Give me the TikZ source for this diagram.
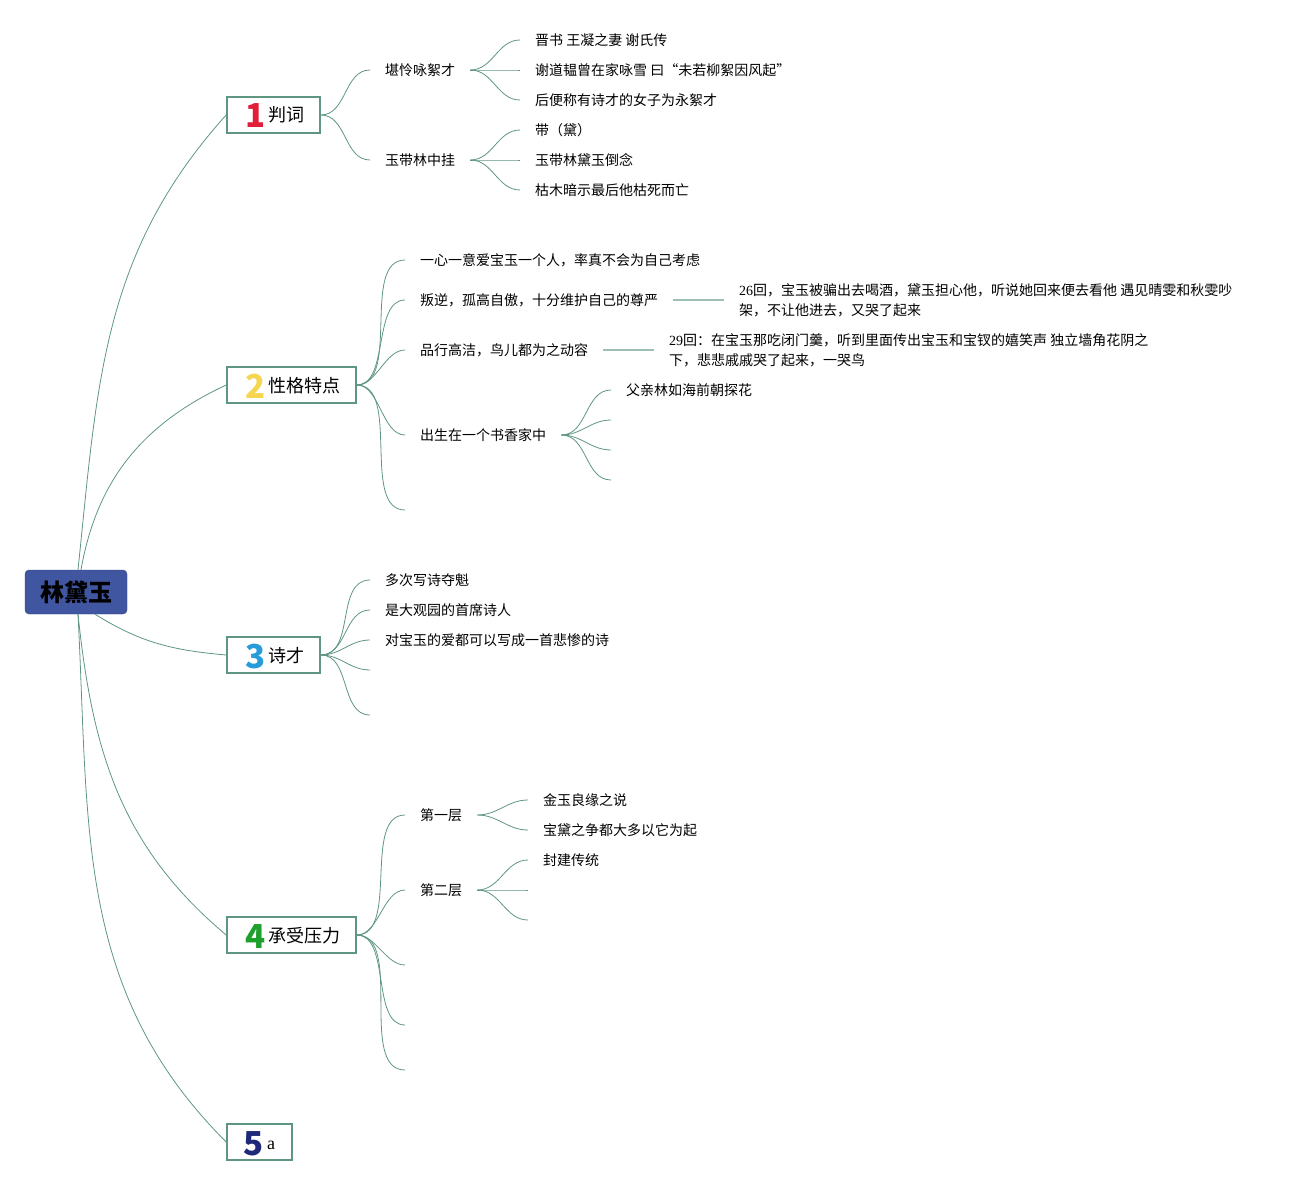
\documentclass[tikz,border=0pt]{standalone}
\usepackage{fontspec}
\setmainfont{Noto Sans CJK SC}
\newfontfamily\latin{Liberation Serif}
\definecolor{lineg}{RGB}{94,150,130}
\definecolor{rootb}{RGB}{64,86,161}
\definecolor{dgred}{RGB}{224,32,58}
\definecolor{dgyel}{RGB}{246,214,80}
\definecolor{dgblu}{RGB}{40,156,216}
\definecolor{dggrn}{RGB}{30,160,45}
\definecolor{dgnav}{RGB}{30,42,120}
\newcommand\dg[2]{\raisebox{-6pt}{\color{#1}\fontsize{33}{33}\selectfont\bfseries #2}}

\begin{document}
\begin{tikzpicture}[x=1pt,y=-1pt,
  link/.style={draw=lineg,line width=0.8pt},
  flat/.style={draw=lineg!60,line width=1.8pt},
  leaf/.style={anchor=west,inner xsep=15pt,inner ysep=1pt,align=left,
    font=\fontsize{14}{20}\selectfont},
  topic/.style={draw=lineg,line width=1.6pt,fill=white,minimum height=36pt,
    text height=17pt,text depth=3pt,inner sep=0pt,font=\fontsize{18}{20}\selectfont}]
\useasboundingbox (0,0) rectangle (1299,1185);
% root and main topics
\node[fill=rootb,draw=rootb!80!black,rounded corners=4pt,minimum width=102pt,
  minimum height=44pt,font=\fontsize{24}{24}\selectfont\bfseries] (0)at(76,592){林黛玉};
\node[topic,minimum width=93pt] (1)at(273.5,115){\,\dg{dgred}{1}\,判词};
\node[topic,minimum width=129pt] (2)at(291.5,385){\,\dg{dgyel}{2}\,性格特点};
\node[topic,minimum width=93pt] (3)at(273.5,655){\,\dg{dgblu}{3}\,诗才};
\node[topic,minimum width=129pt] (4)at(291.5,935){\,\dg{dggrn}{4}\,承受压力};
\node[topic,minimum width=65pt] (5)at(259.5,1142){\dg{dgnav}{5}\,{\latin a}};
\draw[link] ([xshift=2pt]0.north) to[out=84,in=-132] (1.west);
\draw[link] ([xshift=5pt]0.north) to[out=80,in=-155] (2.west);
\draw[link] ([xshift=19pt]0.south) to[out=-32,in=175] (3.west);
\draw[link] ([xshift=2pt]0.south) to[out=-84,in=140] (4.west);
\draw[link] ([xshift=2pt]0.south) to[out=-87,in=135] (5.west);
% 1 判词
\node[leaf] (11)at(370,70){堪怜咏絮才};
\node[leaf] (12)at(370,160){玉带林中挂};
\node[leaf] (111)at(520,40){晋书 王凝之妻 谢氏传};
\node[leaf] (112)at(520,70){谢道韫曾在家咏雪 曰“未若柳絮因风起”};
\node[leaf] (113)at(520,100){后便称有诗才的女子为永絮才};
\node[leaf] (121)at(520,130){带（黛）};
\node[leaf] (122)at(520,160){玉带林黛玉倒念};
\node[leaf] (123)at(520,190){枯木暗示最后他枯死而亡};
\foreach \c in {11,12} \draw[link] (1.east) to[out=0,in=180] (\c.west);
\foreach \c in {111,112,113} \draw[link] (11.east) to[out=0,in=180] (\c.west);
\foreach \c in {121,122,123} \draw[link] (12.east) to[out=0,in=180] (\c.west);
% 2 性格特点
\node[leaf] (21)at(405,260){一心一意爱宝玉一个人，率真不会为自己考虑};
\node[leaf] (22)at(405,300){叛逆，孤高自傲，十分维护自己的尊严};
\node[leaf] (23)at(405,350){品行高洁，鸟儿都为之动容};
\node[leaf] (24)at(405,435){出生在一个书香家中};
\coordinate (25)at(405,510);
\node[leaf] (221)at(724,300){{\latin 26}回，宝玉被骗出去喝酒，黛玉担心他，听说她回来便去看他 遇见晴雯和秋雯吵\\架，不让他进去，又哭了起来};
\node[leaf] (231)at(654,350){{\latin 29}回：在宝玉那吃闭门羹，听到里面传出宝玉和宝钗的嬉笑声 独立墙角花阴之\\下，悲悲戚戚哭了起来，一哭鸟};
\node[leaf] (241)at(611,390){父亲林如海前朝探花};
\coordinate (242)at(611,420);
\coordinate (243)at(611,450);
\coordinate (244)at(611,480);
\foreach \c in {21,22,23,24} \draw[link] (2.east) to[out=0,in=180,looseness=0.85] (\c.west);
\draw[link] (2.east) to[out=0,in=180,looseness=0.85] (25);
\draw[flat] (22.east) -- (221.west);
\draw[flat] (23.east) -- (231.west);
\draw[link] (24.east) to[out=0,in=180] (241.west);
\foreach \c in {242,243,244} \draw[link] (24.east) to[out=0,in=180] (\c);
% 3 诗才
\node[leaf] (31)at(370,580){多次写诗夺魁};
\node[leaf] (32)at(370,610){是大观园的首席诗人};
\node[leaf] (33)at(370,640){对宝玉的爱都可以写成一首悲惨的诗};
\coordinate (34)at(370,670);
\coordinate (35)at(370,715);
\foreach \c in {31,32,33} \draw[link] (3.east) to[out=0,in=180] (\c.west);
\foreach \c in {34,35} \draw[link] (3.east) to[out=0,in=180] (\c);
% 4 承受压力
\node[leaf] (41)at(405,815){第一层};
\node[leaf] (42)at(405,890){第二层};
\coordinate (43)at(405,965);
\coordinate (44)at(405,1025);
\coordinate (45)at(405,1070);
\node[leaf] (411)at(528,800){金玉良缘之说};
\node[leaf] (412)at(528,830){宝黛之争都大多以它为起};
\node[leaf] (421)at(528,860){封建传统};
\coordinate (422)at(528,890);
\coordinate (423)at(528,920);
\foreach \c in {41,42} \draw[link] (4.east) to[out=0,in=180,looseness=0.85] (\c.west);
\foreach \c in {43,44,45} \draw[link] (4.east) to[out=0,in=180,looseness=0.85] (\c);
\foreach \c in {411,412} \draw[link] (41.east) to[out=0,in=180] (\c.west);
\draw[link] (42.east) to[out=0,in=180] (421.west);
\foreach \c in {422,423} \draw[link] (42.east) to[out=0,in=180] (\c);
\end{tikzpicture}
\end{document}
